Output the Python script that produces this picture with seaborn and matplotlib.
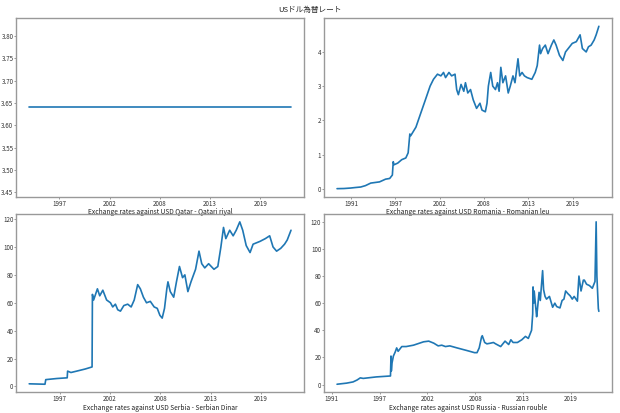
import matplotlib
matplotlib.use("Agg")
import matplotlib.pyplot as plt
import matplotlib.dates as mdates
import matplotlib.ticker as mticker
import seaborn as sns
import pandas as pd

title = "USドル為替レート"

qatar_label = "Exchange rates against USD Qatar - Qatari riyal"
qatar_dates = ["1994-02-01", "2000-01-01", "2008-01-01", "2016-01-01", "2022-08-15"]
qatar_rates = [3.64, 3.64, 3.64, 3.64, 3.64]

romania_label = "Exchange rates against USD Romania - Romanian leu"
romania_dates = [
    "1990-03-01", "1991-01-01", "1991-11-01", "1992-06-01", "1993-02-01", "1993-09-01",
    "1994-05-01", "1995-06-01", "1996-03-01", "1996-09-01", "1997-01-01", "1997-02-10",
    "1997-03-15", "1997-09-01", "1998-03-01", "1998-09-01", "1998-12-15", "1999-03-01",
    "1999-04-10", "1999-12-01", "2000-07-01", "2001-02-01", "2001-09-01", "2002-02-01",
    "2002-08-01", "2003-01-01", "2003-05-01", "2003-08-01", "2004-01-01", "2004-05-01",
    "2004-10-01", "2004-12-15", "2005-03-01", "2005-07-01", "2005-11-01", "2006-01-15",
    "2006-05-01", "2006-09-01", "2007-01-01", "2007-06-01", "2007-11-01", "2008-02-01",
    "2008-07-01", "2008-09-15", "2008-11-15", "2009-03-01", "2009-06-01", "2009-10-01",
    "2010-01-01", "2010-03-15", "2010-06-01", "2010-09-01", "2011-01-01", "2011-05-01",
    "2011-08-01", "2011-12-01", "2012-03-01", "2012-07-15", "2012-10-01", "2013-01-15",
    "2013-05-01", "2013-09-01", "2014-04-01", "2014-09-01", "2014-12-01", "2015-03-15",
    "2015-05-01", "2015-08-01", "2015-12-01", "2016-04-01", "2016-09-01", "2016-12-20",
    "2017-04-01", "2017-09-01", "2018-02-01", "2018-06-01", "2018-10-01", "2019-04-01",
    "2019-10-01", "2020-03-20", "2020-07-01", "2020-12-20", "2021-04-01", "2021-08-01",
    "2021-12-15", "2022-03-15", "2022-07-15",
]
romania_rates = [
    0.002, 0.006, 0.02, 0.035, 0.05, 0.09,
    0.165, 0.2, 0.28, 0.3, 0.4, 0.79,
    0.7, 0.75, 0.85, 0.9, 1.05, 1.6,
    1.55, 1.8, 2.2, 2.6, 3.0, 3.2,
    3.35, 3.3, 3.4, 3.25, 3.4, 3.3,
    3.35, 2.9, 2.75, 3.05, 2.85, 3.1,
    2.8, 2.9, 2.6, 2.35, 2.5, 2.3,
    2.25, 2.5, 3.0, 3.4, 3.0, 2.9,
    3.1, 2.85, 3.55, 3.1, 3.3, 2.8,
    3.0, 3.3, 3.1, 3.8, 3.3, 3.4,
    3.3, 3.25, 3.2, 3.4, 3.6, 4.2,
    3.95, 4.1, 4.2, 3.95, 4.2, 4.35,
    4.2, 3.9, 3.75, 4.0, 4.1, 4.25,
    4.3, 4.5, 4.1, 4.0, 4.15, 4.2,
    4.35, 4.5, 4.75,
]

serbia_label = "Exchange rates against USD Serbia - Serbian Dinar"
serbia_dates = [
    "1994-02-01", "1995-10-20", "1995-11-20", "1997-02-01", "1998-03-20", "1998-04-05",
    "1998-08-15", "1999-04-01", "2000-03-01", "2000-12-01", "2000-12-15", "2001-02-01",
    "2001-07-01", "2001-10-01", "2002-02-01", "2002-07-01", "2002-12-01", "2003-03-01",
    "2003-06-15", "2003-09-15", "2004-01-01", "2004-05-15", "2004-10-15", "2005-03-01",
    "2005-07-01", "2005-11-15", "2006-03-01", "2006-07-01", "2006-11-01", "2007-04-01",
    "2007-09-01", "2008-01-01", "2008-04-15", "2008-07-15", "2008-10-15", "2009-01-15",
    "2009-03-01", "2009-06-01", "2009-10-15", "2010-02-01", "2010-06-01", "2010-10-01",
    "2011-01-01", "2011-05-01", "2011-09-01", "2012-03-01", "2012-07-15", "2012-11-01",
    "2013-03-01", "2013-08-01", "2014-03-01", "2014-08-01", "2014-12-01", "2015-03-15",
    "2015-06-15", "2015-11-15", "2016-04-01", "2016-08-01", "2016-12-20", "2017-04-15",
    "2017-09-01", "2018-02-01", "2018-06-01", "2019-03-01", "2019-10-01", "2020-03-20",
    "2020-08-01", "2020-12-20", "2021-06-01", "2021-11-01", "2022-02-15", "2022-07-15",
]
serbia_rates = [
    1.9, 1.6, 4.9, 5.7, 6.2, 11.0,
    10.0, 11.0, 12.5, 14.0, 66.0, 62.0,
    70.0, 65.0, 69.0, 62.0, 60.0, 57.0,
    59.0, 55.0, 54.0, 58.0, 59.0, 57.0,
    62.0, 73.0, 70.0, 64.0, 60.0, 61.0,
    57.0, 56.0, 51.0, 49.0, 56.0, 70.0,
    75.0, 68.0, 64.0, 75.0, 86.0, 78.0,
    80.0, 68.0, 75.0, 84.0, 97.0, 88.0,
    85.0, 88.0, 84.0, 86.0, 100.0, 114.0,
    106.0, 112.0, 108.0, 112.0, 118.0, 112.0,
    101.0, 96.0, 102.0, 104.0, 106.0, 108.0,
    100.0, 97.0, 99.0, 102.0, 105.0, 112.0,
]

russia_label = "Exchange rates against USD Russia - Russian rouble"
russia_dates = [
    "1992-07-01", "1993-08-01", "1994-05-01", "1994-10-15", "1995-03-01", "1995-07-01",
    "1997-01-01", "1998-06-01", "1998-08-15", "1998-09-05", "1998-09-20", "1998-10-20",
    "1998-12-15", "1999-03-01", "1999-05-01", "1999-07-01", "1999-12-01", "2000-06-01",
    "2001-04-01", "2002-06-01", "2003-01-01", "2003-08-01", "2004-02-01", "2004-07-01",
    "2004-12-01", "2005-06-01", "2006-04-01", "2007-06-01", "2008-04-01", "2008-07-15",
    "2008-10-15", "2009-01-20", "2009-02-20", "2009-06-01", "2009-09-01", "2010-02-01",
    "2010-06-01", "2010-09-01", "2011-04-01", "2011-10-01", "2012-03-01", "2012-06-01",
    "2012-09-01", "2013-03-01", "2013-09-01", "2014-02-01", "2014-06-01", "2014-10-15",
    "2014-12-01", "2014-12-16", "2015-01-10", "2015-02-01", "2015-05-15", "2015-06-15",
    "2015-08-25", "2015-10-15", "2016-01-20", "2016-03-01", "2016-05-01", "2016-07-01",
    "2016-11-01", "2017-03-15", "2017-06-15", "2017-09-01", "2018-01-15", "2018-04-15",
    "2018-07-01", "2018-09-10", "2018-12-15", "2019-03-15", "2019-06-15", "2019-09-01",
    "2020-01-15", "2020-03-20", "2020-06-15", "2020-09-20", "2020-11-01", "2021-02-01",
    "2021-06-01", "2021-10-01", "2022-01-20", "2022-03-10", "2022-04-10", "2022-06-10",
    "2022-07-01",
]
russia_rates = [
    0.2, 1.0, 1.9, 3.3, 4.9, 4.5,
    5.6, 6.2, 6.3, 21.0, 10.0, 16.0,
    21.0, 24.0, 27.0, 24.5, 28.0, 28.0,
    29.0, 31.5, 32.0, 30.5, 28.5, 29.0,
    28.0, 28.5, 27.0, 25.0, 23.5, 23.5,
    27.0, 35.0, 36.0, 31.0, 30.0, 30.5,
    31.0, 30.0, 28.0, 32.0, 29.5, 33.0,
    31.0, 31.0, 33.0, 35.5, 34.0, 40.0,
    52.0, 72.0, 60.0, 69.0, 50.0, 55.0,
    68.0, 62.0, 84.0, 70.0, 65.0, 63.0,
    65.0, 57.0, 60.0, 57.5, 56.5, 62.0,
    63.0, 69.0, 67.0, 65.5, 63.0, 65.0,
    61.5, 80.0, 69.0, 77.0, 77.0, 74.0,
    73.0, 71.0, 76.0, 120.0, 80.0, 56.0,
    54.0,
]

panels = [
    (qatar_label, qatar_dates, qatar_rates),
    (romania_label, romania_dates, romania_rates),
    (serbia_label, serbia_dates, serbia_rates),
    (russia_label, russia_dates, russia_rates),
]

sns.set_theme(style="white")
plt.rcParams["font.family"] = ["Noto Sans CJK JP", "DejaVu Sans"]

fig, axes = plt.subplots(2, 2, figsize=(6.2, 4.13), dpi=100)
fig.subplots_adjust(left=0.026, right=0.987, top=0.956, bottom=0.05,
                    wspace=0.069, hspace=0.095)

for ax, (label, dates, rates) in zip(axes.flat, panels):
    ax.set_facecolor("none")
    df = pd.DataFrame({"date": pd.to_datetime(dates), "rate": rates})
    sns.lineplot(data=df, x="date", y="rate", ax=ax, color="#1f77b4", linewidth=1.2)
    ax.xaxis.set_major_locator(mticker.FixedLocator([8000, 10000, 12000, 14000, 16000, 18000]))
    ax.xaxis.set_major_formatter(mdates.DateFormatter("%Y"))
    ax.set_xlabel(label, fontsize=4.8, labelpad=0.3, color="#222222")
    ax.set_ylabel("")
    ax.tick_params(labelsize=4.5, length=1.5, width=0.6, color="#888888", pad=0.5,
                   bottom=True, left=True, labelcolor="#333333")
    for s in ax.spines.values():
        s.set_color("#999999")
        s.set_linewidth(1.0)

axes[0, 0].set_ylim(3.44, 3.84)
axes[0, 0].yaxis.set_major_locator(mticker.MultipleLocator(0.05))
axes[0, 0].yaxis.set_major_formatter(mticker.FormatStrFormatter("%.2f"))

fig.suptitle(title, fontsize=5.5, y=0.985)

fig.savefig("out.png", dpi=100)
